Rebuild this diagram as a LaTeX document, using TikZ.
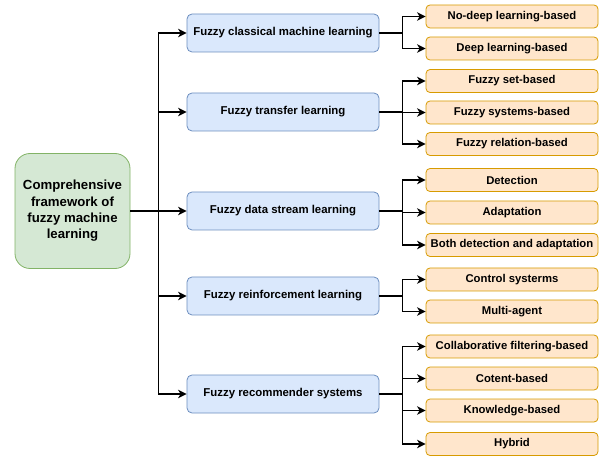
\documentclass[tikz,border=0pt]{standalone}
\usepackage{fontspec}
\setmainfont{Liberation Sans}
\usetikzlibrary{arrows.meta}
\definecolor{gfill}{HTML}{D5E8D4}
\definecolor{gdraw}{HTML}{82B366}
\definecolor{bfill}{HTML}{DAE8FC}
\definecolor{bdraw}{HTML}{6C8EBF}
\definecolor{ofill}{HTML}{FFE6CC}
\definecolor{odraw}{HTML}{D79B00}
\tikzset{
  rootbox/.style={draw=gdraw, fill=gfill, line width=0.8pt, rounded corners=15pt,
    minimum width=115pt, minimum height=115pt, inner sep=0pt, align=center,
    font=\fontsize{13.2}{16.3}\selectfont\bfseries},
  midbox/.style={draw=bdraw, fill=bfill, line width=0.8pt, rounded corners=5pt,
    minimum width=192pt, minimum height=38pt, inner sep=0pt, align=center,
    font=\fontsize{11.4}{13}\selectfont\bfseries},
  leafbox/.style={draw=odraw, fill=ofill, line width=0.8pt, rounded corners=4pt,
    minimum width=172pt, minimum height=23pt, inner sep=0pt, align=center,
    font=\fontsize{11.3}{13}\selectfont\bfseries},
  arr/.style={line width=1.5pt, -{Stealth[length=8.5pt,width=8.5pt,inset=2.5pt]}},
}
\begin{document}
\begin{tikzpicture}[x=1pt,y=-1pt]
\useasboundingbox (0,0) rectangle (603,457);
\node[rootbox] (root) at (72.5,211) {Comprehensive\\framework of\\fuzzy machine\\learning};

\node[midbox] (m1) at (283,33) {Fuzzy classical machine learning};
\node[midbox] (m2) at (283,112) {Fuzzy transfer learning};
\node[midbox] (m3) at (283,211) {Fuzzy data stream learning};
\node[midbox] (m4) at (283,296) {Fuzzy reinforcement learning};
\node[midbox] (m5) at (283,394) {Fuzzy recommender systems};

\node[leafbox] (a1) at (512,16.5) {No-deep learning-based};
\node[leafbox] (a2) at (512,48.5) {Deep learning-based};
\node[leafbox] (b1) at (512,81) {Fuzzy set-based};
\node[leafbox] (b2) at (512,112.5) {Fuzzy systems-based};
\node[leafbox] (b3) at (512,144) {Fuzzy relation-based};
\node[leafbox] (c1) at (512,180) {Detection};
\node[leafbox] (c2) at (512,212.5) {Adaptation};
\node[leafbox] (c3) at (512,245) {Both detection and adaptation};
\node[leafbox] (d1) at (512,279.5) {Control systerms};
\node[leafbox] (d2) at (512,311.5) {Multi-agent};
\node[leafbox] (e1) at (512,346.5) {Collaborative filtering-based};
\node[leafbox] (e2) at (512,378.5) {Cotent-based};
\node[leafbox] (e3) at (512,410.5) {Knowledge-based};
\node[leafbox] (e4) at (512,444) {Hybrid};

\foreach \m in {m1,m2,m3,m4,m5}
  \draw[arr] (root.east) -- ++(28,0) |- (\m.west);

\foreach \l in {a1,a2} \draw[arr] (m1.east) -- ++(23,0) |- (\l.west);
\foreach \l in {b1,b2,b3} \draw[arr] (m2.east) -- ++(23,0) |- (\l.west);
\foreach \l in {c1,c2,c3} \draw[arr] (m3.east) -- ++(23,0) |- (\l.west);
\foreach \l in {d1,d2} \draw[arr] (m4.east) -- ++(23,0) |- (\l.west);
\foreach \l in {e1,e2,e3,e4} \draw[arr] (m5.east) -- ++(23,0) |- (\l.west);
\end{tikzpicture}
\end{document}
